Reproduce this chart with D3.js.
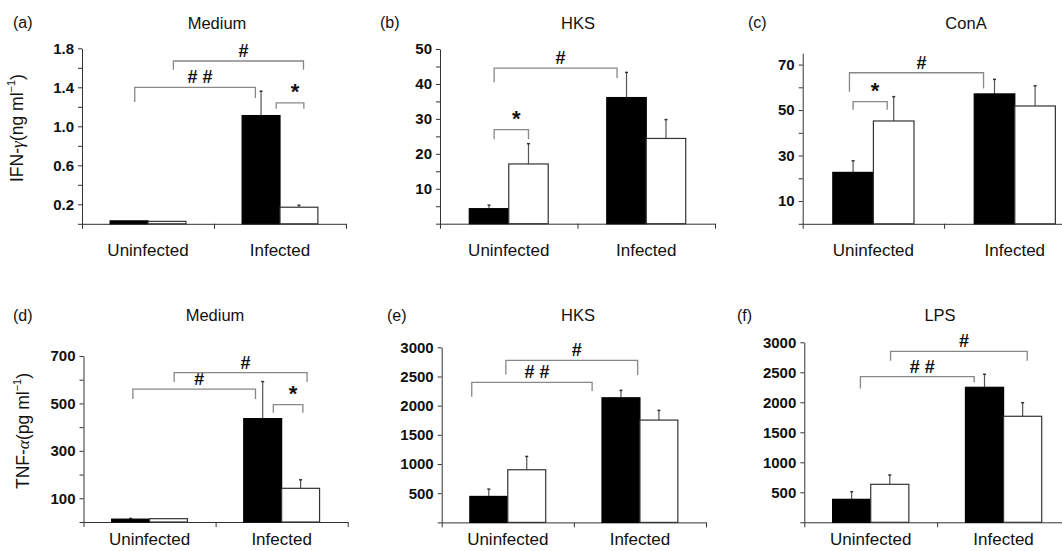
<!DOCTYPE html>
<html>
<head>
<meta charset="utf-8">
<script src="https://cdn.jsdelivr.net/npm/d3@7"></script>
<style>
  body { margin: 0; background: #fff; }
  text { font-family: "Liberation Sans", Arial, sans-serif; fill: #111; }
</style>
</head>
<body>
<div id="chart-area"></div>
<script>
// data
const groups = ["Uninfected", "Infected"]
const panelLetters = ["(a)", "(b)", "(c)", "(d)", "(e)", "(f)"]
const panelTitles = ["Medium", "HKS", "ConA", "Medium", "HKS", "LPS"]

// black (filled) bars and white (open) bars, [Uninfected, Infected]
const filledMean = [[0.03, 1.11], [4.3, 36.1], [22.6, 57.1], [12, 436], [445, 2135], [383, 2250]]
const filledErr  = [[0, 0.25], [1.0, 7.2], [5.1, 6.4], [3, 156], [125, 127], [127, 217]]
const openMean   = [[0.025, 0.17], [17.1, 24.4], [45.2, 51.8], [14, 142], [902, 1753], [633, 1767]]
const openErr    = [[0, 0.02], [5.8, 5.4], [10.7, 8.9], [0, 36], [228, 166], [155, 226]]

const yMax = [1.8, 50, 75, 700, 3000, 3000]
const yTickStep = [0.2, 5, 10, 100, 500, 500]
const yTickLabels = [
  [0.2, 0.6, 1.0, 1.4, 1.8],
  [10, 20, 30, 40, 50],
  [10, 30, 50, 70],
  [100, 300, 500, 700],
  [500, 1000, 1500, 2000, 2500, 3000],
  [500, 1000, 1500, 2000, 2500, 3000]
]
const yTitleParts = [
  ["IFN-", "γ", "(ng ml", "−1", ")"], null, null,
  ["TNF-", "α", "(pg ml", "−1", ")"], null, null
]

// significance brackets: ends are [group, series(0 black / 1 white), nudge in bar widths]
const brackets = [
  [
    { label: "# #", from: [0, 0, 0.15], to: [1, 0, -0.15], at: 1.40, legs: [1.25, 1.29] },
    { label: "#", from: [0, 1, 0.17], to: [1, 1, 0.12], at: 1.67, legs: [1.58, 1.58] },
    { label: "*", from: [1, 0, 0.4], to: [1, 1, 0.13], at: 1.24, legs: [1.18, 1.18] }
  ],
  [
    { label: "#", from: [0, 0, 0.13], to: [1, 0, -0.24], at: 44.5, legs: [40.5, 41.7] },
    { label: "*", from: [0, 0, 0.13], to: [0, 1, 0], at: 26.9, legs: [24.2, 24.2] }
  ],
  [
    { label: "#", from: [0, 0, -0.09], to: [1, 0, -0.27], at: 66.4, legs: [58.0, 59.5] },
    { label: "*", from: [0, 0, 0], to: [0, 1, -0.16], at: 53.7, legs: [50.1, 50.1] }
  ],
  [
    { label: "#", from: [0, 0, 0.06], to: [1, 0, -0.19], at: 560, legs: [519, 519] },
    { label: "#", from: [0, 1, 0.15], to: [1, 1, 0.17], at: 630, legs: [590, 590] },
    { label: "*", from: [1, 0, 0.28], to: [1, 1, 0.06], at: 495, legs: [461, 461] }
  ],
  [
    { label: "# #", from: [0, 0, -0.45], to: [1, 0, -0.76], at: 2399, legs: [2152, 2250] },
    { label: "#", from: [0, 0, 0.45], to: [1, 0, 0.44], at: 2776, legs: [2536, 2524] }
  ],
  [
    { label: "# #", from: [0, 0, 0.23], to: [1, 0, -0.27], at: 2428, legs: [2228, 2328] },
    { label: "#", from: [0, 1, 0.02], to: [1, 1, 0.12], at: 2850, legs: [2693, 2693] }
  ]
]

// layout of each panel (pixels)
const layout = [
  { x0: 82,    x1: 346,    y0: 223.8, y1: 48.3,  letterX: 13,  titleX: 217, row: 0, yTitleX: 17 },
  { x0: 440,   x1: 715,    y0: 223.7, y1: 49,    letterX: 380, titleX: 578, row: 0 },
  { x0: 802.7, x1: 1085.5, y0: 223.8, y1: 53.2,  letterX: 748, titleX: 966, row: 0 },
  { x0: 83.5,  x1: 347.7,  y0: 522,   y1: 356,   letterX: 13,  titleX: 215, row: 1, yTitleX: 23 },
  { x0: 441.7, x1: 706,    y0: 522.4, y1: 347.3, letterX: 387, titleX: 578, row: 1 },
  { x0: 804.3, x1: 1070,   y0: 522.3, y1: 342.3, letterX: 737, titleX: 940, row: 1 }
]
const TITLE_Y = [22.7, 315]
const LABEL_PAD = [20, 11]

const svg = d3.select("#chart-area").append("svg")
  .attr("width", 1062)
  .attr("height", 551)

panelTitles.forEach((title, i) => {
  const L = layout[i]
  const g = svg.append("g")

  const y = d3.scaleLinear().domain([0, yMax[i]]).range([L.y0, L.y1])
  const x = d3.scaleBand().domain(groups).range([L.x0, L.x1])
  const pad = x.bandwidth() * 0.213
  const barW = (x.bandwidth() - 2 * pad) / 2
  const barX = (gi, s) => x(groups[gi]) + pad + s * barW
  const barC = (gi, s, nudge) => barX(gi, s) + barW * (0.5 + (nudge || 0))

  // letter + title
  g.append("text")
    .attr("x", L.letterX).attr("y", TITLE_Y[L.row])
    .attr("dominant-baseline", "central")
    .style("font-size", "16px")
    .text(panelLetters[i])
  g.append("text")
    .attr("x", L.titleX).attr("y", TITLE_Y[L.row])
    .attr("text-anchor", "middle")
    .attr("dominant-baseline", "central")
    .style("font-size", "16.5px")
    .text(title)

  // y axis
  const step = yTickStep[i]
  const nTicks = Math.round(yMax[i] / step)
  const ticks = d3.range(0, nTicks + 1).map(k => +(k * step).toFixed(4)).filter(v => v <= yMax[i])
  const fmt = i === 0 ? d3.format(".1f") : d3.format("d")
  const yAxis = d3.axisLeft(y)
    .tickValues(ticks)
    .tickSize(4)
    .tickSizeOuter(0)
    .tickPadding(4)
    .tickFormat(d => yTickLabels[i].some(v => Math.abs(v - d) < 1e-9) ? fmt(d) : "")
  const ya = g.append("g")
    .attr("transform", `translate(${L.x0},0)`)
    .style("color", "#333")
    .call(yAxis)
  ya.selectAll("text")
    .style("font-size", "15px")
    .style("font-weight", "bold")
    .style("fill", "#111")

  // x axis line with ticks at group boundaries
  const xb = d3.scaleLinear().domain([0, 2]).range([L.x0, L.x1])
  g.append("g")
    .attr("transform", `translate(0,${L.y0})`)
    .style("color", "#333")
    .call(d3.axisBottom(xb).tickValues([0, 1, 2]).tickSize(5).tickSizeOuter(0).tickFormat(""))

  const xl = g.append("g")
    .attr("transform", `translate(0,${L.y0})`)
    .call(d3.axisBottom(x).tickSize(0).tickPadding(LABEL_PAD[L.row]))
  xl.select(".domain").remove()
  xl.selectAll("text")
    .style("font-size", "17px")
    .style("fill", "#111")

  // bars
  const bars = []
  groups.forEach((grp, gi) => {
    bars.push({ gi, s: 0, v: filledMean[i][gi], e: filledErr[i][gi] })
    bars.push({ gi, s: 1, v: openMean[i][gi], e: openErr[i][gi] })
  })

  // error bars (upper only)
  const eb = g.selectAll(".err").data(bars.filter(d => d.e > 0)).enter().append("g")
    .attr("class", "err")
  eb.append("line")
    .attr("x1", d => barC(d.gi, d.s)).attr("x2", d => barC(d.gi, d.s))
    .attr("y1", d => y(d.v)).attr("y2", d => y(d.v + d.e))
    .attr("stroke", "#555").attr("stroke-width", 1.2)
  eb.append("line")
    .attr("x1", d => barC(d.gi, d.s) - 1.5).attr("x2", d => barC(d.gi, d.s) + 1.5)
    .attr("y1", d => y(d.v + d.e)).attr("y2", d => y(d.v + d.e))
    .attr("stroke", "#333").attr("stroke-width", 1.5)

  g.selectAll(".bar").data(bars).enter().append("rect")
    .attr("class", "bar")
    .attr("x", d => barX(d.gi, d.s))
    .attr("width", barW)
    .attr("y", d => y(d.v))
    .attr("height", d => y(0) - y(d.v))
    .attr("fill", d => d.s === 0 ? "#000" : "#fff")
    .attr("stroke", d => d.s === 0 ? "#000" : "#333")
    .attr("stroke-width", 1.2)

  // significance brackets
  brackets[i].forEach(b => {
    const xa = barC(b.from[0], b.from[1], b.from[2])
    const xz = barC(b.to[0], b.to[1], b.to[2])
    g.append("path")
      .attr("d", `M${xa},${y(b.legs[0])}V${y(b.at)}H${xz}V${y(b.legs[1])}`)
      .attr("fill", "none")
      .attr("stroke", "#888")
      .attr("stroke-width", 1.3)
    g.append("text")
      .attr("x", (xa + xz) / 2 + 5)
      .attr("y", y(b.at) - 4)
      .attr("text-anchor", "middle")
      .style("font-size", b.label === "*" ? "22px" : "18px")
      .style("font-weight", "bold")
      .text(b.label)
  })

  // y axis title
  const parts = yTitleParts[i]
  if (parts) {
    const t = g.append("text")
      .attr("transform", `translate(${L.yTitleX},${(L.y0 + L.y1) / 2 - 8}) rotate(-90)`)
      .attr("text-anchor", "middle")
      .attr("dominant-baseline", "central")
      .style("font-size", "17.5px")
    t.append("tspan").text(parts[0])
    t.append("tspan").style("font-style", "italic").style("font-family", "'Liberation Serif', serif").text(parts[1])
    t.append("tspan").text(parts[2])
    t.append("tspan").attr("dy", -6).style("font-size", "11px").text(parts[3])
    t.append("tspan").attr("dy", 6).text(parts[4])
  }
})
</script>
</body>
</html>
